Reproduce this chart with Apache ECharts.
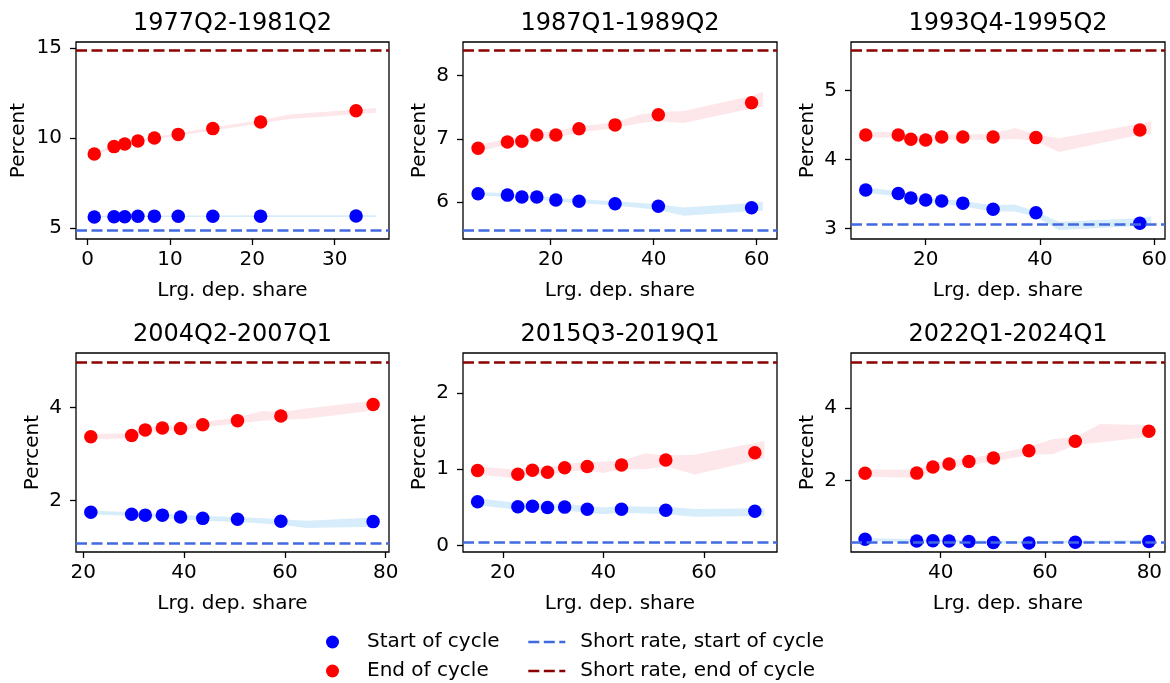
<!DOCTYPE html>
<html>
<head>
<meta charset="utf-8">
<script src="https://cdn.jsdelivr.net/npm/echarts@6/dist/echarts.min.js"></script>
<style>
html,body{margin:0;padding:0;background:#fff;}
#chart{width:1170px;height:683px;}
</style>
</head>
<body>
<div id="chart"></div>
<script>
// ---------------- data ----------------
const panelTitles = ["1977Q2-1981Q2","1987Q1-1989Q2","1993Q4-1995Q2","2004Q2-2007Q1","2015Q3-2019Q1","2022Q1-2024Q1"];

// large-deposit share of each bin (x of points)
const pointShare = [
  [0.8, 3.2, 4.5, 6.1, 8.1, 11.0, 15.2, 21.0, 32.6],
  [5.9, 11.6, 14.4, 17.3, 21.0, 25.5, 32.5, 40.9, 59.0],
  [9.5, 15.2, 17.4, 20.0, 22.8, 26.5, 31.8, 39.3, 57.5],
  [21.5, 29.6, 32.3, 35.7, 39.3, 43.7, 50.6, 59.2, 77.5],
  [15.0, 23.0, 25.9, 28.9, 32.3, 36.8, 43.6, 52.4, 70.1],
  [25.5, 35.4, 38.5, 41.6, 45.4, 50.1, 56.9, 65.8, 79.9]
];
// rate at start of cycle
const startValues = [
  [5.61, 5.63, 5.63, 5.65, 5.66, 5.65, 5.65, 5.66, 5.67],
  [6.127, 6.106, 6.075, 6.075, 6.03, 6.01, 5.97, 5.93, 5.905],
  [3.56, 3.51, 3.445, 3.416, 3.40, 3.37, 3.28, 3.23, 3.078],
  [1.74, 1.70, 1.68, 1.68, 1.64, 1.61, 1.59, 1.55, 1.54],
  [0.575, 0.51, 0.515, 0.50, 0.505, 0.476, 0.476, 0.463, 0.45],
  [0.37, 0.324, 0.33, 0.324, 0.31, 0.285, 0.27, 0.29, 0.31]
];
// rate at end of cycle
const endValues = [
  [9.11, 9.52, 9.67, 9.83, 10.0, 10.2, 10.52, 10.89, 11.51],
  [6.85, 6.95, 6.96, 7.06, 7.06, 7.16, 7.22, 7.38, 7.57],
  [4.358, 4.358, 4.296, 4.286, 4.33, 4.33, 4.33, 4.32, 4.43],
  [3.374, 3.40, 3.52, 3.56, 3.55, 3.63, 3.72, 3.82, 4.07],
  [0.983, 0.935, 0.987, 0.961, 1.02, 1.035, 1.056, 1.12, 1.216],
  [2.195, 2.20, 2.37, 2.45, 2.52, 2.62, 2.82, 3.08, 3.36]
];
// confidence bands
const bandShare = [
  [0.8, 3.2, 4.5, 6.1, 8.1, 11.0, 15.2, 21.0, 24.5, 35.0],
  [5.9, 11.6, 14.4, 17.3, 21.0, 25.5, 32.5, 37.5, 40.9, 45.8, 59.0, 61.2],
  [9.5, 15.2, 17.4, 20.0, 22.8, 26.5, 31.8, 35.6, 39.3, 43.3, 57.5, 59.5],
  [21.5, 29.6, 32.3, 35.7, 39.3, 43.7, 50.6, 55.5, 59.2, 64.3, 77.5, 78.3],
  [15.0, 23.0, 25.9, 28.9, 32.3, 36.8, 40.0, 43.6, 48.4, 52.4, 58.1, 72.0],
  [25.5, 35.4, 38.5, 41.6, 45.4, 50.1, 56.9, 61.6, 65.8, 70.6, 79.9, 80.5]
];
const startLo = [
  [5.59, 5.6, 5.6, 5.61, 5.61, 5.61, 5.61, 5.61, 5.61, 5.61],
  [6.1, 6.08, 6.05, 6.04, 6.0, 5.98, 5.94, 5.9, 5.87, 5.78, 5.85, 5.86],
  [3.52, 3.47, 3.41, 3.38, 3.36, 3.32, 3.25, 3.25, 3.17, 2.98, 3.04, 3.05],
  [1.7, 1.66, 1.63, 1.62, 1.59, 1.56, 1.53, 1.5, 1.47, 1.4, 1.43, 1.43],
  [0.53, 0.47, 0.47, 0.46, 0.46, 0.43, 0.41, 0.43, 0.42, 0.41, 0.38, 0.39],
  [0.33, 0.29, 0.29, 0.29, 0.28, 0.26, 0.25, 0.26, 0.27, 0.27, 0.28, 0.28]
];
const startHi = [
  [5.67, 5.69, 5.69, 5.7, 5.7, 5.7, 5.7, 5.71, 5.71, 5.71],
  [6.15, 6.14, 6.11, 6.1, 6.06, 6.04, 6.01, 5.98, 5.96, 5.91, 5.98, 6.0],
  [3.6, 3.54, 3.48, 3.45, 3.43, 3.4, 3.34, 3.35, 3.25, 3.1, 3.15, 3.18],
  [1.78, 1.74, 1.72, 1.72, 1.69, 1.66, 1.64, 1.61, 1.59, 1.56, 1.63, 1.65],
  [0.62, 0.56, 0.56, 0.55, 0.55, 0.52, 0.5, 0.52, 0.51, 0.51, 0.48, 0.49],
  [0.41, 0.37, 0.37, 0.36, 0.35, 0.33, 0.32, 0.33, 0.34, 0.34, 0.35, 0.35]
];
const endLo = [
  [9.02, 9.44, 9.6, 9.76, 9.93, 10.12, 10.42, 10.8, 11.05, 11.4],
  [6.8, 6.9, 6.92, 6.99, 7.02, 7.1, 7.17, 7.25, 7.28, 7.25, 7.48, 7.51],
  [4.32, 4.32, 4.27, 4.26, 4.29, 4.29, 4.29, 4.3, 4.27, 4.11, 4.36, 4.37],
  [3.32, 3.34, 3.46, 3.5, 3.5, 3.58, 3.66, 3.72, 3.74, 3.76, 3.94, 3.95],
  [0.93, 0.88, 0.94, 0.91, 0.97, 0.98, 0.95, 1.0, 1.0, 1.04, 0.93, 1.14],
  [2.1, 2.07, 2.25, 2.35, 2.42, 2.52, 2.7, 2.73, 2.98, 3.05, 3.2, 3.19]
];
const endHi = [
  [9.2, 9.6, 9.74, 9.9, 10.07, 10.26, 10.6, 10.98, 11.3, 11.66],
  [6.9, 7.0, 7.03, 7.1, 7.12, 7.2, 7.26, 7.39, 7.42, 7.44, 7.68, 7.74],
  [4.4, 4.4, 4.35, 4.34, 4.37, 4.36, 4.38, 4.46, 4.37, 4.31, 4.52, 4.56],
  [3.43, 3.45, 3.57, 3.62, 3.61, 3.69, 3.79, 3.93, 3.9, 3.98, 4.15, 4.18],
  [1.04, 0.99, 1.04, 1.02, 1.07, 1.09, 1.1, 1.11, 1.21, 1.18, 1.19, 1.37],
  [2.29, 2.3, 2.48, 2.55, 2.62, 2.72, 2.93, 3.14, 3.2, 3.56, 3.52, 3.52]
];
// short rates
const shortRateStart = [4.87, 5.546, 3.064, 1.085, 0.04, 0.285];
const shortRateEnd = [14.87, 8.41, 5.59, 4.98, 2.40, 5.27];

// axes
const xLimits = [[-1.42, 36.6], [2.97, 63.94], [6.92, 61.9], [18.56, 80.65], [12.1, 74.5], [22.8, 83.0]];
const yLimits = [[4.39, 15.33], [5.41, 8.535], [2.85, 5.706], [0.884, 5.18], [-0.082, 2.52], [0.02, 5.52]];
const xTickValues = [[0, 10, 20, 30], [20, 40, 60], [20, 40, 60], [20, 40, 60, 80], [20, 40, 60], [40, 60, 80]];
const yTickValues = [[5, 10, 15], [6, 7, 8], [3, 4, 5], [2, 4], [0, 1, 2], [2, 4]];

const xLabel = "Lrg. dep. share";
const yLabel = "Percent";
const legendNames = ["Start of cycle", "End of cycle", "Short rate, start of cycle", "Short rate, end of cycle"];

// ---------------- layout ----------------
const FONT = "DejaVu Sans";
const gridLefts = [76, 463, 851];
const gridWidths = [313, 314, 314];
const gridTops = [42, 353];
const gridHeights = [197, 199];
const yNameGaps = [47, 33, 33, 33, 33, 33];

const COL_START = "#0000ff", COL_END = "#ff0000";
const COL_RATE_START = "#4169e1", COL_RATE_END = "#8b0000";
const COL_BAND_START = "#d8edfb", COL_BAND_END = "#fde7ea";
const DASH = [11, 4.5];
const DASH_W = 2.6;

function bandRenderer(color) {
  return function (params, api) {
    if (params.dataIndexInside !== 0) return null;
    const n = params.dataInsideLength;
    const top = [], bot = [];
    for (let j = 0; j < n; j++) {
      top.push(api.coord([api.value(0, j), api.value(2, j)]));
      bot.push(api.coord([api.value(0, j), api.value(1, j)]));
    }
    return {
      type: 'polygon',
      shape: { points: top.concat(bot.reverse()) },
      style: { fill: color, stroke: null }
    };
  };
}

const grids = [], xAxes = [], yAxes = [], titles = [], series = [];
for (let i = 0; i < 6; i++) {
  const r = Math.floor(i / 3), c = i % 3;
  const left = gridLefts[c], top = gridTops[r], w = gridWidths[c], h = gridHeights[r];
  grids.push({ left: left, top: top, width: w, height: h, show: true, borderColor: '#000', borderWidth: 1.3, backgroundColor: 'transparent', containLabel: false });
  titles.push({
    text: panelTitles[i], left: left + w / 2, top: top - 30, textAlign: 'center', padding: 0,
    textStyle: { fontFamily: FONT, fontSize: 24, fontWeight: 'normal', color: '#000' }
  });
  xAxes.push({
    type: 'value', gridIndex: i, min: xLimits[i][0], max: xLimits[i][1],
    name: xLabel, nameLocation: 'middle', nameGap: 42,
    nameTextStyle: { fontFamily: FONT, fontSize: 20, color: '#000' },
    axisLine: { show: false, onZero: false },
    axisTick: { show: true, length: 6, lineStyle: { color: '#000', width: 1.3 }, customValues: xTickValues[i] },
    axisLabel: { show: true, margin: 11, fontFamily: FONT, fontSize: 20, color: '#000', customValues: xTickValues[i], formatter: v => String(v) },
    splitLine: { show: false }
  });
  yAxes.push({
    type: 'value', gridIndex: i, min: yLimits[i][0], max: yLimits[i][1],
    name: yLabel, nameLocation: 'middle', nameGap: yNameGaps[i], nameRotate: 90,
    nameTextStyle: { fontFamily: FONT, fontSize: 20, color: '#000' },
    axisLine: { show: false, onZero: false },
    axisTick: { show: true, length: 6, lineStyle: { color: '#000', width: 1.3 }, customValues: yTickValues[i] },
    axisLabel: { show: true, margin: 14, fontFamily: FONT, fontSize: 20, color: '#000', customValues: yTickValues[i], formatter: v => String(v) },
    splitLine: { show: false }
  });

  const bandStart = bandShare[i].map((x, j) => [x, startLo[i][j], startHi[i][j]]);
  const bandEnd = bandShare[i].map((x, j) => [x, endLo[i][j], endHi[i][j]]);
  series.push({
    type: 'custom', xAxisIndex: i, yAxisIndex: i, z: 1, silent: true,
    renderItem: bandRenderer(COL_BAND_START), data: bandStart,
    encode: { x: 0, y: [1, 2] }
  });
  series.push({
    type: 'custom', xAxisIndex: i, yAxisIndex: i, z: 1, silent: true,
    renderItem: bandRenderer(COL_BAND_END), data: bandEnd,
    encode: { x: 0, y: [1, 2] }
  });
  series.push({
    name: legendNames[0], type: 'scatter', xAxisIndex: i, yAxisIndex: i, z: 2,
    symbol: 'circle', symbolSize: 13.5, itemStyle: { color: COL_START, opacity: 1 },
    data: pointShare[i].map((x, j) => [x, startValues[i][j]])
  });
  series.push({
    name: legendNames[1], type: 'scatter', xAxisIndex: i, yAxisIndex: i, z: 2,
    symbol: 'circle', symbolSize: 13.5, itemStyle: { color: COL_END, opacity: 1 },
    data: pointShare[i].map((x, j) => [x, endValues[i][j]])
  });
  series.push({
    name: legendNames[2], type: 'line', xAxisIndex: i, yAxisIndex: i, z: 3,
    symbol: 'none', data: [],
    lineStyle: { color: COL_RATE_START, width: DASH_W, type: DASH },
    itemStyle: { color: COL_RATE_START },
    markLine: {
      silent: true, symbol: ['none', 'none'], label: { show: false },
      lineStyle: { color: COL_RATE_START, width: DASH_W, type: DASH },
      data: [{ yAxis: shortRateStart[i] }]
    }
  });
  series.push({
    name: legendNames[3], type: 'line', xAxisIndex: i, yAxisIndex: i, z: 3,
    symbol: 'none', data: [],
    lineStyle: { color: COL_RATE_END, width: DASH_W, type: DASH },
    itemStyle: { color: COL_RATE_END },
    markLine: {
      silent: true, symbol: ['none', 'none'], label: { show: false },
      lineStyle: { color: COL_RATE_END, width: DASH_W, type: DASH },
      data: [{ yAxis: shortRateEnd[i] }]
    }
  });
}

const chart = echarts.init(document.getElementById('chart'), null, { renderer: 'canvas' });
chart.setOption({
  animation: false,
  backgroundColor: '#fff',
  title: titles,
  grid: grids,
  xAxis: xAxes,
  yAxis: yAxes,
  legend: [
    {
      data: [legendNames[0], legendNames[1]], orient: 'vertical', left: 326, top: 631,
      itemWidth: 13, itemHeight: 13, itemGap: 7, padding: 0, selectedMode: false,
      icon: 'circle',
      textStyle: { fontFamily: FONT, fontSize: 20, color: '#000', lineHeight: 22, padding: [0, 0, 0, 23] }
    },
    {
      data: [legendNames[2], legendNames[3]], orient: 'vertical', left: 527, top: 631,
      itemWidth: 37, itemHeight: 13, itemGap: 7, padding: 0, selectedMode: false,
      itemStyle: { opacity: 0 },
      lineStyle: { width: DASH_W, type: DASH },
      textStyle: { fontFamily: FONT, fontSize: 20, color: '#000', lineHeight: 22, padding: [0, 0, 0, 10] }
    }
  ],
  series: series
});
</script>
</body>
</html>
